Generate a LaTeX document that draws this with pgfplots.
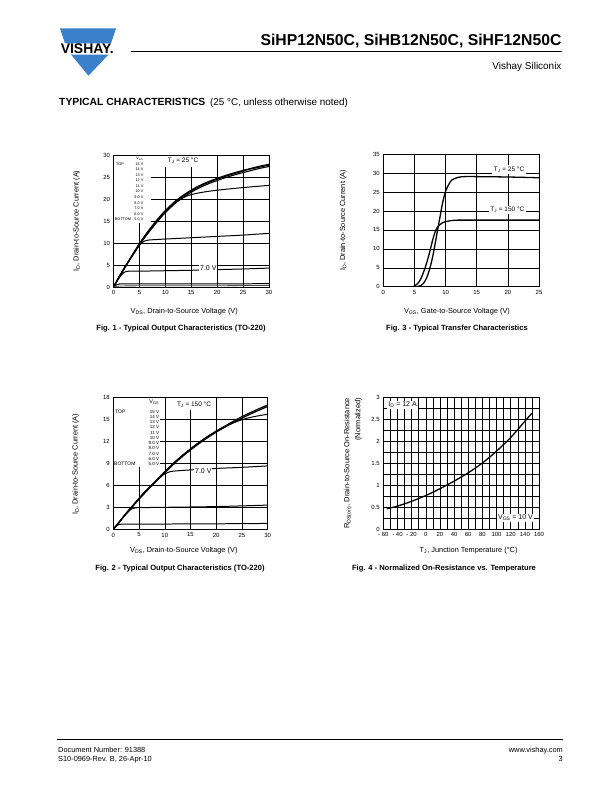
\documentclass[border=0pt]{standalone}
\usepackage{pgfplots}
\pgfplotsset{compat=1.18}
\usepackage{fontspec}
\setmainfont{Liberation Sans}
\definecolor{vblue}{RGB}{58,128,202}
\newcommand{\fs}[1]{\fontsize{#1}{#1}\selectfont}
\pgfplotsset{
  ds/.style={
    scale only axis,
    anchor=south west,
    axis line style={line width=0.9pt},
    grid=major,
    major grid style={black,line width=0.5pt},
    minor grid style={black,line width=0.5pt},
    major tick length=0pt,
    minor tick length=0pt,
    tick style={draw=none},
    ticklabel style={font=\fs{6}},
    /pgf/number format/assume math mode=true,
    no markers,
    every axis plot/.append style={black,line width=1pt,mark=none},
    xlabel style={font=\fs{7.4},anchor=center},
    ylabel style={font=\fs{7.4},anchor=center},
  }
}
\begin{document}
\begin{tikzpicture}
\path[use as bounding box] (0,0) rectangle (612bp,-792bp);
% ---------------- Fig. 1
\begin{axis}[ds, at={(113.5bp,-287bp)}, width=155.5bp, height=132bp,
  xmin=0,xmax=30,ymin=0,ymax=30, xtick={0,5,...,30}, ytick={0,5,...,30},
  xlabel={V\textsubscript{DS}, Drain-to-Source Voltage (V)},
  ylabel={I\textsubscript{D}, Drain-to-Source Current (A)},
  xlabel style={at={([yshift=-24.7bp]axis description cs:0.455,0)}},
  ylabel style={at={([xshift=-36.8bp]axis description cs:0,0.5)}},
]
\addplot[black,smooth,line width=1.1pt] coordinates {(0,0)(1,2.1)(2,4.1)(3,6)(4,7.9)(5,9.7)(6,11.4)(7,13)(8,14.5)(9,15.9)(10,17.2)(12,19.4)(14,21.1)(16,22.5)(18,23.6)(20,24.5)(22,25.3)(24,26)(26,26.7)(28,27.2)(30,27.7)};
\addplot[black,smooth,line width=1.1pt] coordinates {(0,0)(1,2.05)(2,4.0)(3,5.9)(4,7.7)(5,9.5)(6,11.2)(7,12.7)(8,14.2)(9,15.6)(10,16.9)(12,19.1)(14,20.8)(16,22.2)(18,23.3)(20,24.2)(22,25.0)(24,25.7)(26,26.3)(28,26.9)(30,27.4)};
\addplot[black,smooth,line width=1.1pt] coordinates {(0,0)(1,2.15)(2,4.2)(3,6.1)(4,8.0)(5,9.9)(6,11.6)(7,13.2)(8,14.7)(9,16.1)(10,17.4)(12,19.6)(14,21.3)(16,22.7)(18,23.8)(20,24.7)(22,25.5)(24,26.2)(26,26.8)(28,27.4)(30,27.9)};
\addplot[black,smooth] coordinates {(0,0)(1,2.1)(2,4.1)(3,6)(4,7.9)(5,9.7)(6,11.4)(7,13)(8,14.5)(9,15.9)(10,17.1)(11,18.2)(12,19.2)(13,20.0)(14,20.6)(15,21.0)(17,21.5)(20,22.0)(25,22.6)(30,23.1)};
\addplot[black,smooth] coordinates {(0,0)(1,2.1)(2,4.1)(3,6)(4,7.9)(5,9.5)(5.5,10.1)(6,10.45)(6.5,10.6)(7,10.7)(10,10.9)(15,11.2)(20,11.5)(25,11.8)(30,12.2)};
\addplot[black,smooth] coordinates {(0,0)(0.5,1.0)(1,1.9)(1.5,2.7)(2,3.3)(2.5,3.55)(3,3.6)(5,3.6)(10,3.7)(15,3.8)(20,3.95)(25,4.1)(30,4.3)};
\addplot[black,smooth] coordinates {(0,0)(0.5,0.45)(1,0.65)(2,0.7)(10,0.7)(20,0.72)(30,0.75)};
\addplot[black!70,smooth,line width=0.8pt] coordinates {(0,0)(1,0.2)(2,0.25)(10,0.28)(20,0.3)(30,0.35)};
\end{axis}
% ---------------- Fig. 3
\begin{axis}[ds, at={(383.3bp,-286.7bp)}, width=155.7bp, height=132.4bp,
  xmin=0,xmax=25,ymin=0,ymax=35, xtick={0,5,...,25}, ytick={0,5,...,35},
  xlabel={V\textsubscript{GS}, Gate-to-Source Voltage (V)},
  ylabel={I\textsubscript{D}, Drain-to-Source Current (A)},
  xlabel style={at={([yshift=-25bp]axis description cs:0.473,0)}},
  ylabel style={at={([xshift=-40bp]axis description cs:0,0.5)}},
]
\addplot[black,smooth,line width=1.3pt] coordinates {(0,0)(5,0)(5.5,0.05)(6,0.3)(6.5,1)(7,2.5)(7.5,5)(8,8.5)(8.5,13)(9,17.5)(9.5,22)(10,25.2)(10.5,27)(11,28.2)(12,28.9)(13,29.1)(15,29.1)(20,29)(25,28.8)};
\addplot[black,smooth,line width=1.3pt] coordinates {(0,0)(4.5,0)(5,0.2)(5.5,0.8)(6,2)(6.5,4)(7,6.5)(7.5,9.5)(8,12.8)(8.5,15.2)(9,16.3)(9.5,16.9)(10,17.2)(11,17.5)(12,17.6)(15,17.6)(25,17.6)};
\end{axis}
% ---------------- Fig. 2
\begin{axis}[ds, at={(113.3bp,-529.3bp)}, width=154.4bp, height=132bp,
  xmin=0,xmax=30,ymin=0,ymax=18, xtick={0,5,...,30}, ytick={0,3,...,18},
  xlabel={V\textsubscript{DS}, Drain-to-Source Voltage (V)},
  ylabel={I\textsubscript{D}, Drain-to-Source Current (A)},
  xlabel style={at={([yshift=-21.4bp]axis description cs:0.457,0)}},
  ylabel style={at={([xshift=-37.6bp]axis description cs:0,0.493)}},
]
\addplot[black,smooth,line width=1.2pt] coordinates {(0,0)(1,0.85)(2,1.75)(3,2.6)(4,3.4)(5,4.2)(6,5)(7,5.7)(8,6.4)(9,7.1)(10,7.85)(12,9.2)(14,10.4)(16,11.5)(18,12.5)(20,13.4)(22,14.2)(24,15)(26,15.7)(28,16.35)(30,16.95)};
\addplot[black,smooth,line width=1.2pt] coordinates {(0,0)(1,0.8)(2,1.7)(3,2.55)(4,3.3)(5,4.1)(6,4.85)(7,5.6)(8,6.3)(9,7.0)(10,7.7)(12,9.05)(14,10.25)(16,11.35)(18,12.35)(20,13.25)(22,14.05)(24,14.8)(26,15.5)(28,16.15)(30,16.75)};
\addplot[black,smooth] coordinates {(0,0)(2,1.75)(4,3.4)(6,5)(8,6.4)(10,7.85)(12,9.2)(14,10.4)(16,11.5)(18,12.5)(20,13.35)(22,14.1)(24,14.7)(26,15.15)(28,15.45)(30,15.7)};
\addplot[black,smooth] coordinates {(0,0)(1,0.85)(2,1.75)(3,2.6)(4,3.4)(5,4.2)(6,5)(7,5.7)(8,6.4)(9,7.05)(10,7.55)(11,7.85)(12,7.95)(15,8.1)(20,8.3)(25,8.45)(30,8.65)};
\addplot[black,smooth] coordinates {(0,0)(1,0.85)(2,1.7)(3,2.45)(3.5,2.75)(4,2.88)(5,2.95)(10,3.0)(20,3.1)(30,3.3)};
\addplot[black,smooth] coordinates {(0,0)(0.5,0.4)(1,0.62)(2,0.7)(10,0.72)(20,0.75)(30,0.8)};
\end{axis}
% ---------------- Fig. 4
\begin{axis}[ds, at={(383.3bp,-529bp)}, width=155.7bp, height=132bp,
  xmin=-60,xmax=160,ymin=0,ymax=3,
  xtick={-60,-40,...,160}, xticklabels={- 60,- 40,- 20,0,20,40,60,80,100,120,140,160},
  minor x tick num=1,
  ytick={0,0.5,...,3}, minor y tick num=1, grid=both,
  xlabel={T\textsubscript{J}, Junction Temperature (°C)},
  xlabel style={at={([yshift=-21.7bp]axis description cs:0.548,0)}},
]
\addplot[black,smooth,line width=1.3pt] coordinates {(-55,0.46)(-40,0.52)(-20,0.63)(0,0.76)(10,0.835)(20,0.915)(30,1.0)(40,1.087)(50,1.18)(60,1.277)(70,1.385)(80,1.5)(90,1.63)(100,1.77)(110,1.92)(120,2.08)(130,2.26)(140,2.45)(150,2.63)};
\end{axis}
% ---------------- page text
\begin{scope}[x=1bp,y=-1bp]
% logo
\fill[vblue] (60,28.3) -- (116,28.3) -- (111,43.3) -- (65,43.3) -- cycle;
\fill[vblue] (71,54.5) -- (108.5,54.5) -- (88.5,75.7) -- cycle;
\node[anchor=base, inner sep=0, font=\fs{14}\bfseries] at (87.3,53.3) {VISHAY.};
\node[anchor=base east, inner sep=0, font=\fs{15.8}\bfseries] at (561.7,45.7) {SiHP12N50C, SiHB12N50C, SiHF12N50C};
\draw[line width=0.8pt] (130.7,51.2) -- (561.7,51.2);
\node[anchor=base east, inner sep=0, font=\fs{10}] at (561.7,69) {Vishay Siliconix};
\node[anchor=base west, inner sep=0, font=\fs{10.4}\bfseries] at (59,105) {TYPICAL CHARACTERISTICS};
\node[anchor=base west, inner sep=0, font=\fs{9.9}] at (210,105) {(25 °C, unless otherwise noted)};
% footer
\draw[line width=0.8pt] (57,739.3) -- (563,739.3);
\node[anchor=base west, inner sep=0, font=\fs{7.4}] at (58,752.5) {Document Number: 91388};
\node[anchor=base west, inner sep=0, font=\fs{7.4}] at (58,761.5) {S10-0969-Rev. B, 26-Apr-10};
\node[anchor=base east, inner sep=0, font=\fs{7.4}] at (563,752.5) {www.vishay.com};
\node[anchor=base east, inner sep=0, font=\fs{7.4}] at (563,761.5) {3};
% captions
\node[font=\fs{7.6}\bfseries] at (181,328.3) {Fig. 1 - Typical Output Characteristics (TO-220)};
\node[font=\fs{7.6}\bfseries] at (457,328.3) {Fig. 3 - Typical Transfer Characteristics};
\node[font=\fs{7.6}\bfseries] at (180,569) {Fig. 2 - Typical Output Characteristics (TO-220)};
\node[font=\fs{7.6}\bfseries] at (444,569) {Fig. 4 - Normalized On-Resistance vs. Temperature};
% Fig 1 annotations
\fill[white] (114.2,155.7) rectangle (151,223);
\fill[white] (160,155.7) rectangle (205,166.5);
\node[font=\fs{6.5}] at (183,161) {T\textsubscript{J} = 25 °C};
\node[anchor=east, inner sep=0, font=\fs{3.8}] at (143.5,158.8) {V\textsubscript{GS}};
\foreach \v [count=\i from 0] in {15 V,14 V,13 V,12 V,11 V,10 V,9.0 V,8.0 V,7.0 V,6.0 V,5.0 V}
  \node[anchor=east, inner sep=0, font=\fs{3.8}] at (143.5,164+\i*5.53) {\v};
\node[anchor=west, inner sep=0, font=\fs{3.8}] at (116,164) {TOP};
\node[anchor=west, inner sep=0, font=\fs{3.8}] at (114.7,219.3) {BOTTOM};
\node[fill=white, inner sep=1pt, font=\fs{7}] at (208.3,268.3) {7.0 V};
% Fig 2 annotations
\fill[white] (113.9,397.9) rectangle (160,467);
\fill[white] (172,397.9) rectangle (213,410);
\node[font=\fs{6.5}] at (194,404.5) {T\textsubscript{J} = 150 °C};
\node[anchor=east, inner sep=0, font=\fs{5.5}] at (159.3,402.3) {V\textsubscript{GS}};
\foreach \v [count=\i from 0] in {15 V,14 V,13 V,12 V,11 V,10 V,9.0 V,8.0 V,7.0 V,6.0 V,5.0 V}
  \node[anchor=east, inner sep=0, font=\fs{4.5}] at (159.3,411.7+\i*5.23) {\v};
\node[anchor=west, inner sep=0, font=\fs{5}] at (115,411.7) {TOP};
\node[anchor=west, inner sep=0, font=\fs{5}] at (114,464) {BOTTOM};
\node[fill=white, inner sep=1pt, font=\fs{7}] at (203.3,471) {7.0 V};
% Fig 3 annotations
\node[fill=white, inner sep=1.5pt, font=\fs{6.5}] at (509,169.3) {T\textsubscript{J} = 25 °C};
\node[fill=white, inner sep=1.5pt, font=\fs{6.5}] at (507.3,210) {T\textsubscript{J} = 150 °C};
% Fig 4 annotations
\node[fill=white, inner sep=1.5pt, font=\fs{7}] at (402.5,405) {I\textsubscript{D} = 12 A};
\node[fill=white, inner sep=1.5pt, font=\fs{7}] at (515.5,518) {V\textsubscript{GS} = 10 V};
\node[rotate=90, align=right, font=\fontsize{7.5}{11}\selectfont] at (352.9,463.3) {R\textsubscript{DS(on)}, Drain-to-Source On-Resistance\\(Normalized)};
\end{scope}
\end{tikzpicture}
\end{document}
